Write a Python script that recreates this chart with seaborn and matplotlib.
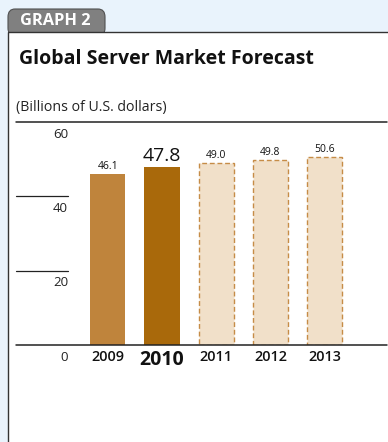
import matplotlib
matplotlib.use("Agg")
import matplotlib.pyplot as plt
from matplotlib.patches import FancyBboxPatch, Rectangle
import seaborn as sns
import pandas as pd

sns.set_theme(style="white")
plt.rcParams["font.family"] = ["Open Sans", "DejaVu Sans"]

# Data
years = ["2009", "2010", "2011", "2012", "2013"]
values = [46.1, 47.8, 49.0, 49.8, 50.6]
forecast = [False, False, True, True, True]
y_ticks = [0, 20, 40, 60]

bar_colors = ["#bf843c", "#a9690b", "#f1e0c9", "#f1e0c9", "#f1e0c9"]
edge_forecast = "#c68c47"

W, H = 388, 442
fig = plt.figure(figsize=(W / 100, H / 100), dpi=100)
fig.patch.set_facecolor("#e9f3fc")

def fx(px):
    return px / W

def fy(py):
    return 1 - py / H

# Tab and white panel
tab = FancyBboxPatch((fx(8), fy(36)), fx(97), 27 / H,
                     boxstyle="round,pad=0,rounding_size=0.018",
                     transform=fig.transFigure, facecolor="#808080",
                     edgecolor="#505050", linewidth=0.8, zorder=-2)
fig.patches.append(tab)
panel = Rectangle((fx(8), -0.01), 1.0, fy(32) + 0.01, transform=fig.transFigure,
                  facecolor="white", edgecolor="#333333", linewidth=1.0, zorder=-1)
fig.patches.append(panel)
fig.text(fx(20), fy(21), "GRAPH 2", color="white", fontsize=11.8,
         fontweight="bold", va="center", ha="left")

fig.text(fx(19), fy(59), "Global Server Market Forecast", fontsize=14,
         fontweight="bold", va="center", ha="left", color="#111111")
fig.text(fx(16), fy(108), "(Billions of U.S. dollars)", fontsize=10.2,
         va="center", ha="left", color="#222222")

# Chart area
ax = fig.add_axes([fx(16), fy(345), fx(387) - fx(16), (345 - 122) / H])
ax.set_zorder(2)
df = pd.DataFrame({"year": years, "value": values})
sns.barplot(data=df, x="year", y="value", hue="year", palette=bar_colors,
            width=0.65, legend=False, ax=ax, saturation=1, linewidth=0)

for patch, fc in zip(ax.patches, forecast):
    if fc:
        patch.set_edgecolor(edge_forecast)
        patch.set_linestyle((0, (3.5, 2)))
        patch.set_linewidth(1.0)

ax.set_xlim(-1.69, 5.15)
ax.set_ylim(0, 60)
ax.set_xticks([])
ax.set_yticks([])
ax.set_xlabel("")
ax.set_ylabel("")
for s in ax.spines.values():
    s.set_visible(False)
ax.patch.set_alpha(0)

# Horizontal reference lines: full-width at 0 and 60, short ones at 20 and 40
for t in y_ticks:
    if t in (0, 60):
        ax.axhline(t, color="#222222", lw=1.1, clip_on=False)
    else:
        ax.plot([-1.69, -0.73], [t, t], color="#222222", lw=0.9, clip_on=False)
    ax.annotate(str(t), xy=(-0.73, t), xytext=(0, -4), textcoords="offset points",
                ha="right", va="top", fontsize=9.5, color="#222222")

# Year labels and value labels
for i, (yr, v) in enumerate(zip(years, values)):
    big = yr == "2010"
    ax.annotate(yr, xy=(i, 0), xytext=(0, -3.5), textcoords="offset points",
                ha="center", va="top", fontsize=14 if big else 10.4,
                fontweight="bold" if big else "semibold", color="#111111")
    label = f"{v:.1f}"
    ax.annotate(label, xy=(i, v), xytext=(0, 1.5), textcoords="offset points",
                ha="center", va="bottom", fontsize=14 if big else 7.5,
                color="#111111")

fig.savefig("out.png", dpi=100)
